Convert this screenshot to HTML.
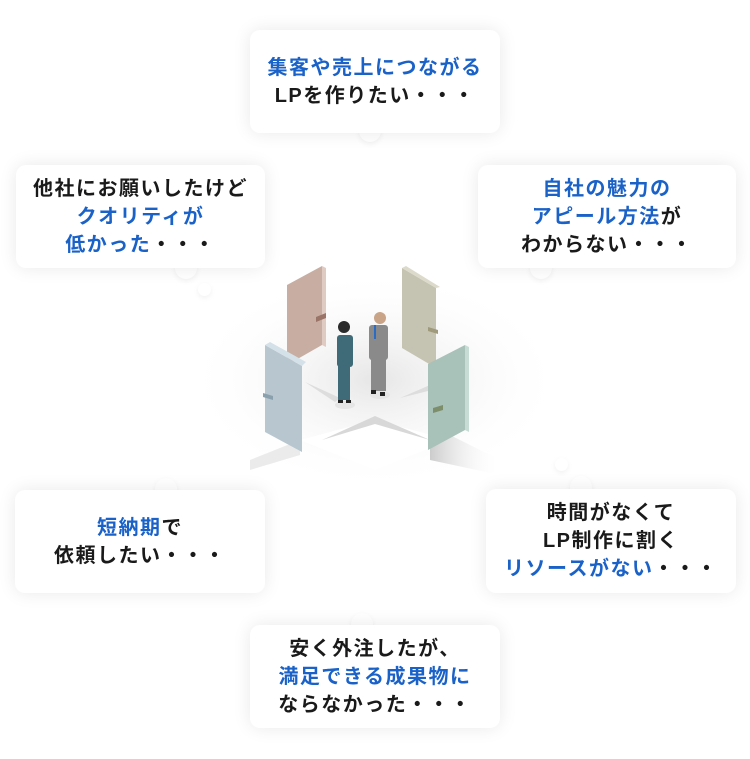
<!DOCTYPE html>
<html><head><meta charset="utf-8">
<style>
body{margin:0;width:750px;height:759px;background:#fff;position:relative;overflow:hidden;font-family:"Liberation Sans","Noto Sans CJK JP",sans-serif;}
.b{position:absolute;background:#fff;border-radius:10px;box-shadow:0 0 18px rgba(0,0,0,0.09);display:flex;align-items:center;justify-content:center;text-align:center;font-weight:bold;font-size:20px;line-height:28px;color:#1a1a1a;letter-spacing:1.5px;z-index:2;white-space:nowrap}
.c{color:#1a62c8}
.t{position:absolute;background:#fff;border-radius:50%;box-shadow:0 2px 6px rgba(0,0,0,0.06);z-index:1}
svg{position:absolute;left:0;top:0}
</style></head><body>
<svg width="750" height="759">
<defs>
<radialGradient id="g" cx="0.5" cy="0.5" r="0.5"><stop offset="0" stop-color="#e6e6e6"/><stop offset="1" stop-color="#fff" stop-opacity="0"/></radialGradient>
<linearGradient id="sh" x1="0" y1="0" x2="1" y2="0"><stop offset="0" stop-color="#ccc"/><stop offset="1" stop-color="#fff" stop-opacity="0"/></linearGradient>
</defs>
<ellipse cx="375" cy="380" rx="190" ry="110" fill="url(#g)"/>
<polygon points="300,440 375,420 450,440 375,470" fill="#fff"/>
<polygon points="322,440 375,416 430,440 375,424" fill="#d8d8d8"/>
<polygon points="305,382 340,398 335,402" fill="#ddd"/>
<polygon points="400,398 430,385 432,390" fill="#ddd"/>
<polygon points="430,425 500,460 500,475 430,460" fill="url(#sh)"/>
<polygon points="300,440 250,460 250,470 300,455" fill="#ddd" opacity=".6"/>
<polygon points="287,285 322,266 322,345 287,365" fill="#c8ada2"/>
<polygon points="322,266 326,268 326,347 322,345" fill="#e0cbc2"/>
<polygon points="316,317 326,313 326,318 316,322" fill="#9a7466"/>
<polygon points="402,268 436,288 436,368 402,348" fill="#c5c3b1"/>
<polygon points="402,268 406,266 440,287 436,288" fill="#dcdacb"/>
<polygon points="428,327 438,330 438,334 428,331" fill="#9e9a7b"/>
<polygon points="265,345 302,366 302,452 265,432" fill="#b7c6cf"/>
<polygon points="265,345 270,342 306,362 302,366" fill="#d5e1e8"/>
<polygon points="263,393 273,396 273,400 263,397" fill="#8aa1ad"/>
<polygon points="428,364 465,345 465,430 428,450" fill="#a8c1b9"/>
<polygon points="465,345 469,347 469,432 465,430" fill="#c8dcd6"/>
<polygon points="433,408 443,405 443,410 433,413" fill="#7c8e6a"/>
<ellipse cx="345" cy="405" rx="10" ry="4" fill="#e5e5e5"/>
<circle cx="344" cy="327" r="6" fill="#2b2b2b"/>
<rect x="337" y="335" width="16" height="32" rx="3" fill="#3f6b78"/>
<rect x="338" y="365" width="12" height="35" fill="#3f6b78"/>
<rect x="338" y="400" width="5" height="3" fill="#222"/><rect x="346" y="400" width="5" height="3" fill="#222"/>
<ellipse cx="380" cy="395" rx="10" ry="4" fill="#e5e5e5"/>
<circle cx="380" cy="318" r="6" fill="#c9a487"/>
<rect x="369" y="325" width="19" height="35" rx="3" fill="#8a8a8a"/>
<rect x="374" y="325" width="2" height="14" fill="#2a6cc4"/>
<rect x="371" y="358" width="15" height="33" fill="#8a8a8a"/>
<rect x="371" y="390" width="5" height="4" fill="#222"/><rect x="380" y="392" width="5" height="4" fill="#222"/>
</svg>

<div class="b" style="left:250px;top:30px;width:250px;height:103px"><div><span class="c">集客や売上につながる</span><br>LPを作りたい・・・</div></div>
<div class="t" style="left:359px;top:120px;width:22px;height:22px"></div>

<div class="b" style="left:16px;top:165px;width:249px;height:103px"><div>他社にお願いしたけど<br><span class="c">クオリティが<br>低かった</span>・・・</div></div>
<div class="t" style="left:175px;top:257px;width:22px;height:22px"></div>
<div class="t" style="left:198px;top:283px;width:13px;height:13px"></div>

<div class="b" style="left:478px;top:165px;width:258px;height:103px"><div><span class="c">自社の魅力の<br>アピール方法</span>が<br>わからない・・・</div></div>
<div class="t" style="left:530px;top:257px;width:22px;height:22px"></div>

<div class="b" style="left:15px;top:490px;width:250px;height:103px"><div><span class="c">短納期</span>で<br>依頼したい・・・</div></div>
<div class="t" style="left:155px;top:478px;width:22px;height:22px"></div>

<div class="b" style="left:486px;top:489px;width:250px;height:104px"><div>時間がなくて<br>LP制作に割く<br><span class="c">リソースがない</span>・・・</div></div>
<div class="t" style="left:570px;top:476px;width:22px;height:22px"></div>
<div class="t" style="left:555px;top:458px;width:13px;height:13px"></div>

<div class="b" style="left:250px;top:625px;width:250px;height:103px"><div>安く外注したが、<br><span class="c">満足できる成果物に</span><br>ならなかった・・・</div></div>
<div class="t" style="left:351px;top:613px;width:22px;height:22px"></div>
</body></html>
